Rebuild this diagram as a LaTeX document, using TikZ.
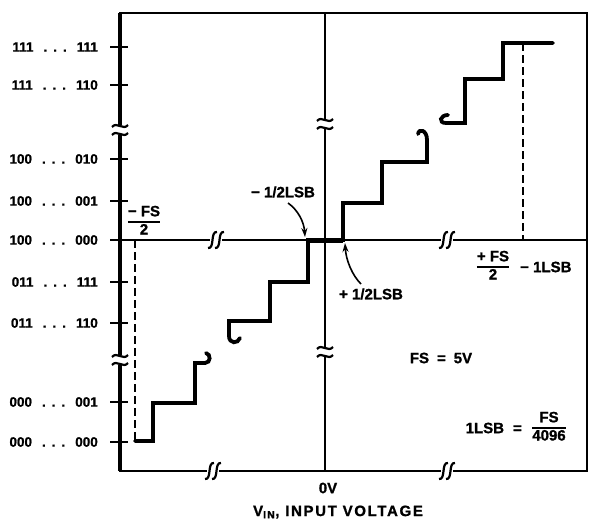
\documentclass[tikz,border=0pt]{standalone}
\usepackage{fontspec}
\setmainfont{Liberation Sans}[BoldFeatures={FakeBold=1.2}]
\usetikzlibrary{arrows.meta}

\newcommand{\codelabel}[2]{#1\hspace{10pt}.\hspace{6pt}.\hspace{6pt}.\hspace{10pt}#2}

\begin{document}
\begin{tikzpicture}[x=1pt,y=-1pt,
    lbl/.style={font=\fontsize{15}{17}\selectfont\bfseries, inner sep=1pt},
    codelbl/.style={font=\fontsize{13.5}{15}\selectfont\bfseries, inner sep=1pt, anchor=east},
    stair/.style={line width=3.8pt, line cap=round},
    brk/.style={line width=2.2pt},
    vbreak/.pic={
        \fill[white] (-9,-5) rectangle (9,5);
        \draw[brk] (-8,-3) .. controls (-3,-9) and (3,1) .. (8,-5);
        \draw[brk] (-8,5) .. controls (-3,-1) and (3,9) .. (8,3);
    },
    hbreak/.pic={
        \fill[white] (-6,-8) rectangle (6,8);
        \draw[brk] (-8,8) .. controls (-1,9) and (-6,-9) .. (1,-8);
        \draw[brk] (-1,8) .. controls (6,9) and (1,-9) .. (8,-8);
    }]
    \useasboundingbox (0,0) rectangle (589,522);

    % frame and axes
    \draw [line width=2.5pt] (120,13) rectangle (587,471);
    \draw [line width=3.5pt] (120,13) -- (120,471);
    \draw [line width=2pt] (325,13) -- (325,471);
    \draw [line width=2.5pt] (120,240) -- (587,240);

    % codes on the left
    \foreach \y/\hi/\lo in {47/111/111, 85/111/110, 159/100/010, 201/100/001,
                            240/100/000, 282/011/111, 323/011/110, 402/000/001,
                            442/000/000} {
        \draw [line width=2pt] (110,\y) -- (128,\y);
        \node [codelbl] (code\y) at (99,\y) {\codelabel{\hi}{\lo}};
    }

    % breaks
    \pic at (120,130) {vbreak};
    \pic at (120,360) {vbreak};
    \pic at (325,124) {vbreak};
    \pic at (325,352) {vbreak};
    \pic at (216,240) {hbreak};
    \pic at (447,240) {hbreak};
    \pic at (213,471) {hbreak};
    \pic at (447,471) {hbreak};

    % dashed limits
    \draw [line width=1.5pt, dash pattern=on 8pt off 4pt] (523,43) -- (523,240);
    \draw [line width=1.5pt, dash pattern=on 8pt off 4pt] (135,240) -- (135,441);

    % transfer steps
    \draw [stair] (135,441) -- (153,441) -- (153,403) -- (195,403) -- (195,363)
        -- (205,363) .. controls (211,363) and (211,354) .. (206,353);
    \draw [stair] (240,338) .. controls (238,344) and (229,344) .. (229,336)
        -- (229,321) -- (270,321) -- (270,282) -- (308,282) -- (308,240)
        -- (343,240) -- (343,203) -- (382,203) -- (382,162) -- (427,162)
        -- (427,140) .. controls (427,130) and (419,128) .. (418,134);
    \draw [stair] (448,115) .. controls (440,115) and (438,123) .. (446,123)
        -- (465,123) -- (465,79) -- (503,79) -- (503,43) -- (553,43);
    \draw [line width=5pt] (308,240) -- (343,240);

    % half LSB marks
    \node [lbl] (halfminus) at (283,192) {− 1/2LSB};
    \node [lbl] (halfplus) at (371,294) {+ 1/2LSB};
    \coordinate (minustip) at (305,237);
    \coordinate (plustip) at (345,243);
    \draw [line width=1.6pt, -{Stealth[length=9pt,width=6pt]}] (288,203)
        .. controls (298,210) and (304,222) .. (minustip);
    \draw [line width=1.6pt, -{Stealth[length=9pt,width=6pt]}] (361,284)
        .. controls (352,275) and (346,260) .. (plustip);

    % scale labels
    \node [lbl] (negfs) at (144,222)
        {\arrayrulewidth=1.2pt\begin{tabular}{@{}c@{}}− FS\\\hline 2\end{tabular}};
    \node [lbl] (posfs) at (493,267)
        {\arrayrulewidth=1.2pt\begin{tabular}{@{}c@{}}+ FS\\\hline 2\end{tabular}};
    \node [lbl, anchor=west] (onelsb) at (519,267) {− 1LSB};
    \node [lbl] (fsval) at (441,358) {FS\hspace{8pt}=\hspace{8pt}5V};
    \node [lbl, anchor=east] (lsbdef) at (523,428) {1LSB\hspace{9pt}=};
    \node [lbl] (lsbfrac) at (549,428)
        {\arrayrulewidth=1.2pt\begin{tabular}{@{}c@{}}FS\\\hline 4096\end{tabular}};
    \node [lbl] (zerov) at (328,488) {0V};
    \node [lbl] (vin) at (338,512)
        {\addfontfeature{LetterSpace=11}V\textsubscript{IN}, INPUT VOLTAGE};
\end{tikzpicture}
\end{document}
